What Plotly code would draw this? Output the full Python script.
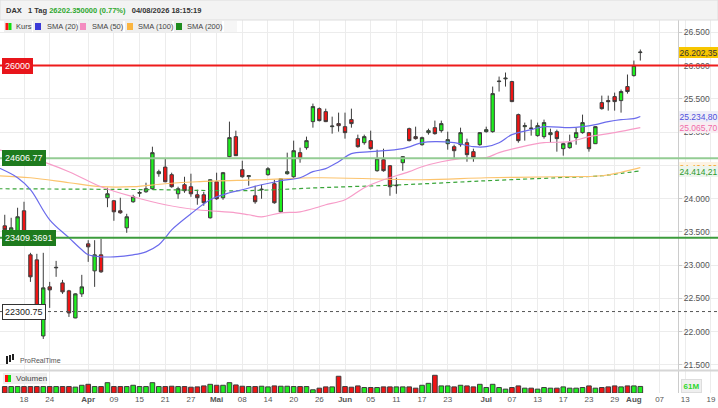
import plotly.graph_objects as go
import pandas as pd

# ---------------- data ----------------
holidays = ["2026-04-03", "2026-04-06", "2026-05-01"]
axis_days = [d.strftime("%Y-%m-%d") for d in pd.bdate_range("2026-03-12", "2026-08-21")
             if d.strftime("%Y-%m-%d") not in holidays]
dates = axis_days[1:101]   # 2026-03-13 .. 2026-08-04

opens = [23590, 23500, 23510, 23816, 23154, 23078, 21934, 22672, 22958, 22732,
         22612, 22205, 22567, 23319, 22913, 23154, 24012, 23967, 23816, 23560,
         23952, 24080, 24102, 24148, 24374, 24473, 24359, 24072, 24208, 24178,
         24057, 24057, 23711, 24253, 24012, 24630, 24931, 24434, 24330, 24042,
         24133, 24359, 24223, 23801, 24374, 24328, 24690, 24765, 25157, 25352,
         25307, 25081, 25127, 25081, 25187, 24901, 24840, 24871, 24419, 24584,
         24494, 24193, 24539, 25051, 24931, 24810, 24991, 25066, 25021, 24825,
         24780, 24810, 24840, 24705, 24810, 25006, 25006, 25759, 25800, 25759,
         25262, 25081, 25060, 24946, 24931, 24961, 25006, 24750, 24765, 24916,
         24991, 24991, 24825, 25443, 25473, 25533, 25473, 25684, 25849, 26195]
highs = [23756, 23711, 23862, 23952, 23184, 23169, 23184, 22747, 23063, 22777,
         22627, 22575, 22853, 23374, 23374, 23395, 24163, 23975, 24012, 23771,
         24057, 24118, 24238, 24780, 24434, 24600, 24389, 24178, 24328, 24374,
         24133, 24102, 24290, 24389, 24400, 25157, 25021, 24569, 24350, 24193,
         24208, 24473, 24283, 24305, 24690, 24871, 24765, 24931, 25428, 25370,
         25352, 25232, 25292, 25292, 25352, 24961, 24961, 25021, 24735, 24750,
         24505, 24313, 24640, 25066, 25081, 24931, 25051, 25172, 25172, 25006,
         24810, 25066, 24901, 24750, 25000, 25081, 25684, 25834, 25895, 25770,
         25277, 25142, 25187, 25142, 25187, 25051, 25036, 24840, 24961, 25066,
         25262, 25000, 25090, 25548, 25548, 25593, 25639, 25865, 26075, 26241]
lows = [23485, 23485, 23490, 23480, 22747, 22250, 21889, 22356, 22823, 22567,
        22220, 22200, 22521, 23048, 22672, 22883, 23870, 23666, 23771, 23485,
        23937, 24027, 24087, 24133, 24328, 24245, 24163, 23997, 24087, 24027,
        23907, 23892, 23700, 23982, 23982, 24620, 24640, 24313, 24193, 23922,
        23997, 24344, 23922, 23786, 24359, 24313, 24539, 24735, 25066, 25160,
        25150, 24976, 25006, 24901, 25066, 24765, 24810, 24735, 24404, 24404,
        24042, 24072, 24419, 24860, 24886, 24795, 24961, 24961, 24991, 24735,
        24600, 24780, 24554, 24554, 24795, 24991, 24991, 25609, 25684, 25450,
        24840, 24871, 24946, 24931, 24901, 24840, 24705, 24645, 24750, 24810,
        24976, 24705, 24820, 25337, 25322, 25322, 25292, 25578, 25834, 26075]
closes = [23530, 23560, 23726, 23500, 22823, 22295, 22657, 22627, 22965, 22597,
          22280, 22567, 22672, 23274, 23154, 22898, 24072, 23801, 23786, 23726,
          24027, 24090, 24148, 24690, 24404, 24253, 24178, 24148, 24118, 24072,
          24012, 23937, 24283, 23997, 24389, 24916, 24645, 24328, 24344, 23952,
          24140, 24449, 23937, 24298, 24404, 24720, 24600, 24871, 25383, 25172,
          25157, 25090, 25096, 24991, 25127, 24780, 24931, 24750, 24600, 24419,
          24178, 24200, 24630, 24871, 24901, 24916, 25021, 24976, 25127, 24886,
          24720, 24991, 24660, 24615, 24991, 25036, 25578, 25765, 25810, 25458,
          24871, 25096, 25055, 25096, 25142, 24991, 24901, 24825, 24840, 24991,
          25142, 24750, 25081, 25352, 25458, 25458, 25609, 25609, 26002, 26202.35]
volumes_m = [60, 60, 60, 60, 60, 60, 60, 60, 60, 60,
             60, 55, 72, 81, 60, 60, 96, 60, 60, 60,
             72, 60, 60, 96, 60, 60, 63, 60, 60, 54,
             57, 66, 81, 72, 72, 96, 75, 63, 60, 60,
             63, 57, 66, 63, 63, 60, 60, 60, 30, 45,
             57, 57, 156, 60, 54, 66, 51, 51, 51, 57,
             57, 57, 57, 57, 45, 72, 90, 165, 66, 66,
             57, 72, 66, 57, 81, 51, 81, 51, 36, 51,
             66, 45, 45, 36, 51, 45, 45, 57, 45, 45,
             51, 66, 45, 51, 57, 66, 57, 66, 66, 61]

sma20_dates = ["2026-03-12", "2026-03-17", "2026-03-19", "2026-03-24", "2026-03-27", "2026-03-31",
               "2026-04-01", "2026-04-07", "2026-04-09", "2026-04-14", "2026-04-16", "2026-04-20",
               "2026-04-21", "2026-04-22", "2026-04-27", "2026-04-30", "2026-05-06", "2026-05-08",
               "2026-05-13", "2026-05-18", "2026-05-21", "2026-05-25", "2026-05-27", "2026-05-29",
               "2026-06-02", "2026-06-05", "2026-06-12", "2026-06-17", "2026-06-19", "2026-06-24",
               "2026-06-29", "2026-07-01", "2026-07-03", "2026-07-07", "2026-07-10", "2026-07-14",
               "2026-07-20", "2026-07-22", "2026-07-24", "2026-07-28", "2026-07-30", "2026-08-03",
               "2026-08-04"]
sma20_vals = [24464, 24313, 24133, 23681, 23410, 23229, 23154, 23124, 23124, 23154, 23199, 23304,
              23410, 23530, 23771, 23982, 24087, 24133, 24208, 24268, 24313, 24404, 24450, 24554,
              24675, 24705, 24750, 24840, 24856, 24840, 24780, 24780, 24840, 24961, 25036, 25081,
              25066, 25081, 25112, 25157, 25187, 25202, 25234.80]

sma50_dates = ["2026-03-12", "2026-03-19", "2026-03-27", "2026-04-07", "2026-04-14", "2026-04-21",
               "2026-04-28", "2026-05-07", "2026-05-11", "2026-05-13", "2026-05-18", "2026-05-21",
               "2026-05-26", "2026-05-27", "2026-06-01", "2026-06-04", "2026-06-09", "2026-06-15",
               "2026-06-17", "2026-06-22", "2026-06-25", "2026-07-01", "2026-07-03", "2026-07-08",
               "2026-07-14", "2026-07-20", "2026-07-23", "2026-07-29", "2026-08-04"]
sma50_vals = [24735, 24615, 24404, 24178, 24027, 23907, 23832, 23786, 23756, 23726, 23786, 23801,
              23877, 23907, 23982, 24163, 24283, 24404, 24479, 24554, 24600, 24615, 24690, 24765,
              24840, 24856, 24931, 24991, 25065.70]

sma100_dates = ["2026-03-12", "2026-03-19", "2026-03-27", "2026-04-07", "2026-04-14", "2026-04-21",
                "2026-04-28", "2026-05-13", "2026-05-26", "2026-06-17", "2026-07-01", "2026-07-16",
                "2026-07-27", "2026-07-30", "2026-08-04"]
sma100_vals = [24343, 24313, 24238, 24178, 24178, 24223, 24253, 24283, 24313, 24283, 24313, 24328,
               24343, 24396, 24464]

sma200_dates = ["2026-03-12", "2026-04-20", "2026-05-08", "2026-05-26", "2026-06-12", "2026-07-01",
                "2026-07-16", "2026-07-27", "2026-07-30", "2026-08-04"]
sma200_vals = [24148, 24133, 24118, 24163, 24208, 24268, 24313, 24343, 24380, 24414.21]

levels = [26000, 24606.77, 23409.3691, 22300.75]

tick_dates = ["2026-03-12", "2026-03-18", "2026-03-24", "2026-04-01", "2026-04-09", "2026-04-15",
              "2026-04-21", "2026-04-27", "2026-05-04", "2026-05-08", "2026-05-14", "2026-05-20",
              "2026-05-26", "2026-06-01", "2026-06-05", "2026-06-11", "2026-06-17", "2026-06-23",
              "2026-07-01", "2026-07-07", "2026-07-13", "2026-07-17", "2026-07-23", "2026-07-29",
              "2026-08-03", "2026-08-07", "2026-08-13", "2026-08-19"]
tick_text = ["12", "18", "24", "<b>Apr</b>", "09", "15", "21", "27", "<b>Mai</b>", "08", "14", "20",
             "26", "<b>Jun</b>", "05", "11", "17", "23", "<b>Jul</b>", "07", "13", "17", "23", "29",
             "<b>Aug</b>", "07", "13", "19"]
price_ticks = [21500, 22000, 22500, 23000, 23500, 24000, 24500, 25000, 25500, 26000, 26500]

# ---------------- styling / geometry ----------------
W, H, B = 718, 408, 15
PH = H - B
FONT = "Liberation Sans, Arial, sans-serif"
AXP = 678 / W


def py(p):
    return (PH - p) / PH


def px(p):
    return p / W


def de(v):
    s = f"{v:,.2f}"
    return s.replace(",", "X").replace(".", ",").replace("X", ".")


GREEN = "#1ef01e"
RED = "#f01414"
OUT = "#3c3c3c"

fig = go.Figure()

# category holders (so future days exist on the axis)
for xa, ya in (("x", "y"), ("x2", "y2")):
    fig.add_trace(go.Scatter(x=axis_days, y=[None] * len(axis_days), mode="lines",
                             showlegend=False, hoverinfo="skip", xaxis=xa, yaxis=ya))

fig.add_trace(go.Scatter(x=sma200_dates, y=sma200_vals, mode="lines", line_shape="spline",
                         line=dict(color="#3aa53a", width=1.2, dash="4px,3px"),
                         showlegend=False, xaxis="x", yaxis="y"))
fig.add_trace(go.Scatter(x=sma100_dates, y=sma100_vals, mode="lines", line_shape="spline",
                         line=dict(color="#fcc46e", width=1.2), showlegend=False, xaxis="x", yaxis="y"))
fig.add_trace(go.Scatter(x=sma50_dates, y=sma50_vals, mode="lines", line_shape="spline",
                         line=dict(color="#f79cc8", width=1.2), showlegend=False, xaxis="x", yaxis="y"))
fig.add_trace(go.Scatter(x=sma20_dates, y=sma20_vals, mode="lines", line_shape="spline",
                         line=dict(color="#6b6bec", width=1.2), showlegend=False, xaxis="x", yaxis="y"))

fig.add_trace(go.Candlestick(
    x=dates, open=opens, high=highs, low=lows, close=closes,
    increasing=dict(line=dict(color=OUT, width=1), fillcolor=GREEN),
    decreasing=dict(line=dict(color=OUT, width=1), fillcolor=RED),
    whiskerwidth=0, showlegend=False, xaxis="x", yaxis="y"))

vol_colors = [GREEN if c >= o else RED for o, c in zip(opens, closes)]
fig.add_trace(go.Bar(x=dates, y=volumes_m, marker=dict(color=vol_colors, line=dict(color=OUT, width=1)),
                     showlegend=False, xaxis="x2", yaxis="y2"))

shapes = []
# cover grid in the right axis area of the price panel
shapes.append(dict(type="rect", xref="paper", yref="paper", x0=AXP, x1=1, y0=py(371), y1=py(20),
                   fillcolor="white", line=dict(width=0), layer="between"))
# header bar
shapes.append(dict(type="rect", xref="paper", yref="paper", x0=0, x1=1, y0=py(20), y1=1,
                   fillcolor="#f3f3f3", line=dict(color="#dddddd", width=1), layer="above"))
# panel separator
shapes.append(dict(type="line", xref="paper", yref="paper", x0=0, x1=1, y0=py(370.5), y1=py(370.5),
                   line=dict(color="#d6d6d6", width=2), layer="above"))

level_styles = [
    dict(color="#ee1b1b", width=2, dash="solid"),
    dict(color="#94cc94", width=2, dash="solid"),
    dict(color="#3c9c3c", width=2, dash="solid"),
    dict(color="#555555", width=1, dash="3px,3px"),
]
for lv, st in zip(levels, level_styles):
    shapes.append(dict(type="line", xref="paper", yref="y", x0=0, x1=1, y0=lv, y1=lv,
                       line=st, layer="above"))

# legend row boxes
legend_items = [("Kurs", None, 4, 32, 14), ("SMA (20)", "#3b3bd8", 33, 77, 45),
                ("SMA (50)", "#f48cc0", 78, 123, 90), ("SMA (100)", "#fbb540", 125, 172, 136),
                ("SMA (200)", "#1e8c1e", 174, 222, 185)]
annotations = []
for name, col, a, b, t in legend_items:
    shapes.append(dict(type="rect", xref="paper", yref="paper", x0=px(a), x1=px(b), y0=py(32),
                       y1=py(21), fillcolor="#efefef", line=dict(width=0), layer="above"))
    if col is None:
        shapes.append(dict(type="rect", xref="paper", yref="paper", x0=px(a + 1.5), x1=px(a + 4.5),
                           y0=py(30), y1=py(23), fillcolor="#ff1010", line=dict(width=0), layer="above"))
        shapes.append(dict(type="rect", xref="paper", yref="paper", x0=px(a + 4.5), x1=px(a + 7.5),
                           y0=py(30), y1=py(23), fillcolor="#10e010", line=dict(width=0), layer="above"))
    else:
        shapes.append(dict(type="rect", xref="paper", yref="paper", x0=px(a + 2), x1=px(a + 8),
                           y0=py(30), y1=py(23), fillcolor=col, line=dict(width=0), layer="above"))
    annotations.append(dict(text=name, xref="paper", yref="paper", x=px(t), y=py(26.5), xanchor="left",
                            yanchor="middle", showarrow=False, font=dict(family=FONT, size=7.5, color="#444")))
shapes.append(dict(type="rect", xref="paper", yref="paper", x0=px(224), x1=px(237), y0=py(32),
                   y1=py(21), fillcolor="#f6f6f6", line=dict(width=0), layer="above"))

# Volumen label
shapes.append(dict(type="rect", xref="paper", yref="paper", x0=px(3), x1=px(47), y0=py(384),
                   y1=py(373), fillcolor="#eeeeee", line=dict(width=0), layer="above"))
shapes.append(dict(type="rect", xref="paper", yref="paper", x0=px(5), x1=px(8), y0=py(382),
                   y1=py(375), fillcolor="#ff1010", line=dict(width=0), layer="above"))
shapes.append(dict(type="rect", xref="paper", yref="paper", x0=px(8), x1=px(11), y0=py(382),
                   y1=py(375), fillcolor="#10e010", line=dict(width=0), layer="above"))
annotations.append(dict(text="Volumen", xref="paper", yref="paper", x=px(14), y=py(378.5),
                        xanchor="left", yanchor="middle", showarrow=False,
                        font=dict(family=FONT, size=8, color="#444")))

# ProRealTime logo
for xx, y0, y1 in ((7, 356, 364), (10, 355, 362), (13, 354, 360)):
    shapes.append(dict(type="rect", xref="paper", yref="paper", x0=px(xx - 1), x1=px(xx + 1),
                       y0=py(y1), y1=py(y0), fillcolor="#222", line=dict(width=0), layer="above"))
annotations.append(dict(text="ProRealTime", xref="paper", yref="paper", x=px(18), y=py(360),
                        xanchor="left", yanchor="middle", showarrow=False,
                        font=dict(family=FONT, size=7, color="#555")))

# header text
pct = (closes[-1] / closes[-2] - 1) * 100
header = (f"<b>DAX&nbsp;&nbsp;&nbsp;1 Tag&nbsp;<span style='color:#2fa82f'>{closes[-1]:.6f} ({pct:.2f}%)</span>"
          f"&nbsp;&nbsp;&nbsp;04/08/2026 18:15:19</b>")
annotations.append(dict(text=header, xref="paper", yref="paper", x=px(4), y=py(11), xanchor="left",
                        yanchor="middle", showarrow=False, font=dict(family=FONT, size=7.5, color="#333")))

# left level labels
level_box = [("#e8151b", "#e8151b", "white"), ("#1e7b1e", "#1e7b1e", "white"),
             ("#1e7b1e", "#1e7b1e", "white"), ("white", "#333333", "#222")]
for lv, (bg, bc, fc) in zip(levels, level_box):
    annotations.append(dict(text=str(lv), xref="paper", yref="y", x=px(2), y=lv, xanchor="left",
                            yanchor="middle", showarrow=False, bgcolor=bg, bordercolor=bc, borderwidth=1,
                            borderpad=2, font=dict(family=FONT, size=9, color=fc)))

# right value labels
right_labels = [
    (sma100_vals[-1], "#fdf3e3", "#f5a020", "#fdf3e3"),
    (sma200_vals[-1], "#edf5ed", "#2e9a2e", "#d8e8d8"),
    (sma50_vals[-1], "#f8eef3", "#f06aa8", "#ecdde5"),
    (sma20_vals[-1], "#eeeef8", "#4f4fdc", "#dcdcec"),
    (closes[-1], "#f7c600", "#333333", "#e8b800"),
]
for v, bg, fc, bc in right_labels:
    annotations.append(dict(text=de(v), xref="paper", yref="y", x=AXP + px(1), y=v, xanchor="left",
                            yanchor="middle", showarrow=False, bgcolor=bg, bordercolor=bc, borderwidth=0,
                            borderpad=0.5, font=dict(family=FONT, size=8.5, color=fc)))
annotations.append(dict(text=f"<b>{volumes_m[-1]}M</b>", xref="paper", yref="y2", x=AXP + px(3),
                        y=volumes_m[-1], xanchor="left", yanchor="middle", showarrow=False,
                        bgcolor="#efefef", bordercolor="#dddddd", borderwidth=1, borderpad=1.5,
                        font=dict(family=FONT, size=8, color="#2ad82a")))

fig.update_layout(
    width=W, height=H, margin=dict(l=0, r=0, t=0, b=B), autosize=False,
    paper_bgcolor="white", plot_bgcolor="white", separators=",.",
    font=dict(family=FONT, size=8, color="#555"),
    showlegend=False, bargap=0.28, boxgap=0.25, hovermode=False,
    xaxis=dict(domain=[0, 1], anchor="y", type="category", categoryorder="array",
               categoryarray=axis_days, range=[0.26, 112.1], tickvals=tick_dates, ticktext=tick_text,
               showticklabels=False, showgrid=True, gridcolor="#ececec", zeroline=False,
               rangeslider=dict(visible=False), fixedrange=True),
    xaxis2=dict(domain=[0, 1], anchor="y2", type="category", categoryorder="array",
                categoryarray=axis_days, matches="x", tickvals=tick_dates, ticktext=tick_text,
                showticklabels=True, showgrid=True, gridcolor="#ececec", zeroline=False, ticks="",
                tickfont=dict(family=FONT, size=8, color="#555"), rangeslider=dict(visible=False)),
    yaxis=dict(domain=[py(370), py(20)], range=[21422, 26685], side="right", anchor="free",
               position=AXP, tickvals=price_ticks, tickformat=",.0f", showgrid=True, gridcolor="#ececec",
               showline=True, linecolor="#cccccc", ticks="outside", ticklen=3, tickcolor="#cccccc",
               zeroline=False, automargin=False, tickfont=dict(family=FONT, size=8.5, color="#555")),
    yaxis2=dict(domain=[0, py(371)], range=[0, 205], side="right", anchor="free", position=AXP,
                showticklabels=False, showgrid=False, showline=True, linecolor="#cccccc",
                zeroline=False, automargin=False),
    shapes=shapes, annotations=annotations,
)

fig.write_html("out.html", config={"displayModeBar": False, "staticPlot": True},
               post_script="document.body.style.margin='0px';document.body.style.overflow='hidden';")
